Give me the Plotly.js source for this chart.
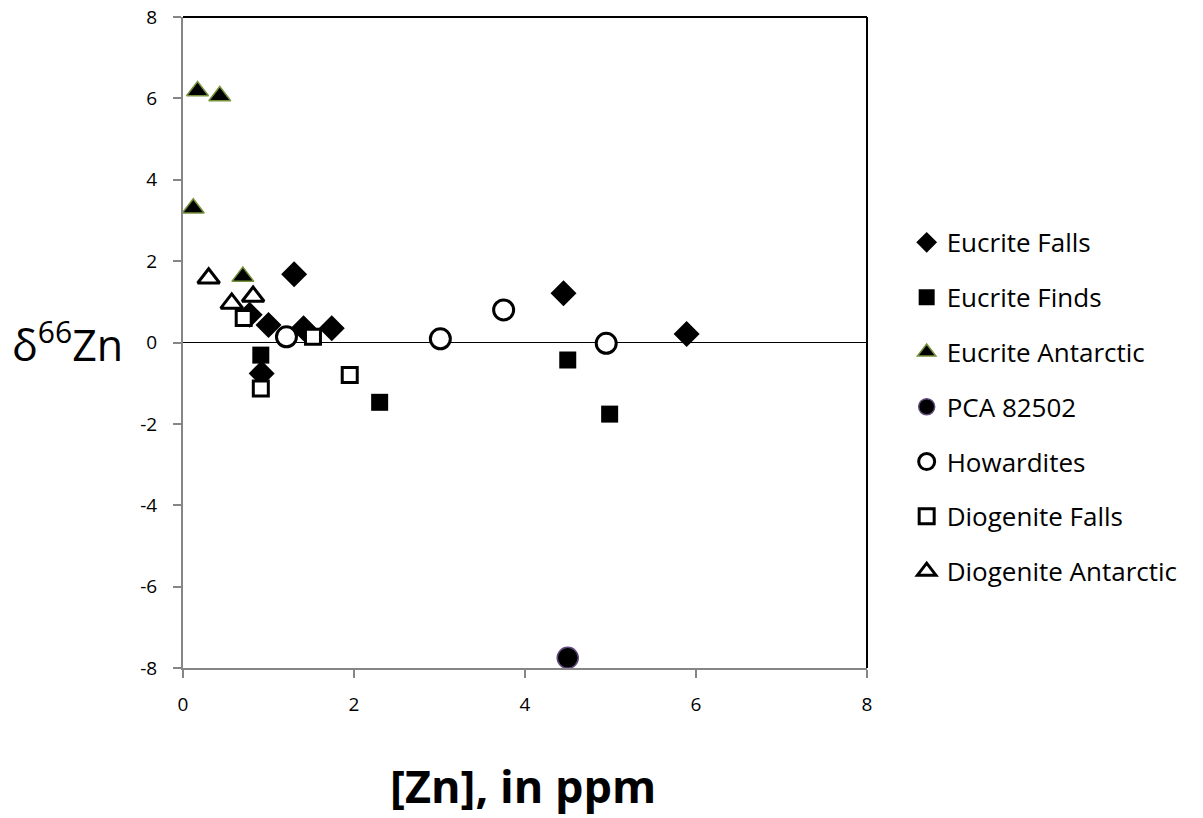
<!DOCTYPE html>
<html>
<head>
<meta charset="utf-8">
<script src="https://cdn.plot.ly/plotly-3.0.1.min.js"></script>
<style>body{margin:0;padding:0;background:#fff;} #chart{width:1203px;height:818px;}</style>
</head>
<body>
<div id="chart"></div>
<script>
// Data
var eucriteFallsX = [0.78, 1.00, 1.30, 1.41, 1.74, 0.92, 4.45, 5.89];
var eucriteFallsY = [0.68, 0.43, 1.68, 0.35, 0.35, -0.76, 1.21, 0.21];

var eucriteFindsX = [0.91, 2.30, 4.50, 4.99];
var eucriteFindsY = [-0.31, -1.47, -0.43, -1.76];

var eucriteAntarcticX = [0.12, 0.17, 0.43, 0.70];
var eucriteAntarcticY = [3.30, 6.18, 6.06, 1.62];

var pcaX = [4.50];
var pcaY = [-7.75];

var howarditesX = [1.21, 3.01, 3.75, 4.95];
var howarditesY = [0.14, 0.09, 0.80, -0.02];

var diogeniteFallsX = [0.71, 1.52, 0.91, 1.95];
var diogeniteFallsY = [0.60, 0.14, -1.13, -0.80];

var diogeniteAntarcticX = [0.30, 0.57, 0.82];
var diogeniteAntarcticY = [1.58, 0.96, 1.13];

var seriesNames = ["Eucrite Falls", "Eucrite Finds", "Eucrite Antarctic", "PCA 82502",
                   "Howardites", "Diogenite Falls", "Diogenite Antarctic"];
var xTicks = [0, 2, 4, 6, 8];
var yTicks = [-8, -6, -4, -2, 0, 2, 4, 6, 8];
var xTitle = '<b>[Zn], in ppm</b>';
var yTitle = 'δ<sup>66</sup>Zn';

function tr(i, x, y, symbol, size, fill, lineColor, lineWidth) {
  return {
    type: 'scatter', mode: 'markers', name: seriesNames[i], x: x, y: y,
    legendgroup: 'g' + i,
    marker: {symbol: symbol, size: size, color: fill, line: {color: lineColor, width: lineWidth}},
    cliponaxis: false, hoverinfo: 'x+y'
  };
}

var data = [
  tr(0, eucriteFallsX, eucriteFallsY, 'diamond', 20, '#000000', '#000000', 0),
  tr(1, eucriteFindsX, eucriteFindsY, 'square', 17, '#000000', '#000000', 0),
  tr(2, eucriteAntarcticX, eucriteAntarcticY, 'triangle-up', 19, '#000000', '#77933C', 1.5),
  tr(3, pcaX, pcaY, 'circle', 21, '#000000', '#604A7B', 1.5),
  tr(4, howarditesX, howarditesY, 'circle', 20, '#ffffff', '#000000', 3),
  tr(5, diogeniteFallsX, diogeniteFallsY, 'square', 15, '#ffffff', '#000000', 3),
  tr(6, diogeniteAntarcticX, diogeniteAntarcticY, 'triangle-up', 19, '#ffffff', '#000000', 3)
];

var tickFont = {size: 19, family: 'Open Sans, sans-serif', color: '#000000'};

var layout = {
  width: 1203, height: 818,
  margin: {l: 183, r: 336, t: 17, b: 150},
  paper_bgcolor: '#ffffff', plot_bgcolor: '#ffffff',
  font: {family: 'Open Sans, sans-serif', color: '#000000', size: 19},
  showlegend: true,
  legend: {
    x: 1.058, xanchor: 'left', y: 0.401, yanchor: 'middle',
    font: {size: 26, family: 'Open Sans, sans-serif', color: '#000000'},
    tracegroupgap: 18, itemwidth: 30,
    bgcolor: 'rgba(0,0,0,0)'
  },
  xaxis: {
    range: [0, 8], tickmode: 'array', tickvals: xTicks, ticktext: xTicks.map(String),
    showgrid: false, zeroline: false,
    showline: true, linecolor: '#868686', linewidth: 2,
    ticks: 'outside', ticklen: 8, tickcolor: '#868686', tickwidth: 2,
    ticklabelstandoff: 10,
    tickfont: tickFont, fixedrange: true
  },
  yaxis: {
    range: [-8, 8], tickmode: 'array', tickvals: yTicks, ticktext: yTicks.map(String),
    showgrid: false, zeroline: true, zerolinecolor: '#000000', zerolinewidth: 1.5,
    showline: true, linecolor: '#868686', linewidth: 2,
    ticks: 'outside', ticklen: 8, tickcolor: '#868686', tickwidth: 2,
    ticklabelstandoff: 12,
    tickfont: tickFont, fixedrange: true
  },
  shapes: [
    {type: 'line', xref: 'paper', yref: 'paper', x0: 0, x1: 1, y0: 1, y1: 1, line: {color: '#000000', width: 2}},
    {type: 'line', xref: 'paper', yref: 'paper', x0: 1, x1: 1, y0: 0, y1: 1, line: {color: '#000000', width: 2}}
  ],
  annotations: [
    {xref: 'paper', yref: 'paper', x: -0.2529, y: 0.5, xanchor: 'left', yanchor: 'middle',
     text: yTitle, showarrow: false, font: {size: 43, family: 'Open Sans, sans-serif', color: '#000000'}},
    {xref: 'paper', yref: 'paper', x: 0.497, y: -0.181, xanchor: 'center', yanchor: 'middle',
     text: xTitle, showarrow: false, font: {size: 45, family: 'Open Sans, sans-serif', color: '#000000'}}
  ]
};

Plotly.newPlot('chart', data, layout, {displayModeBar: false, staticPlot: true});
</script>
</body>
</html>
